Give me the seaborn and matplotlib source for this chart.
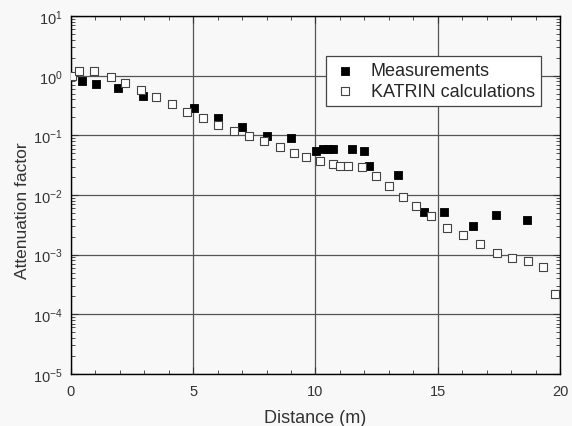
import numpy as np
import pandas as pd
import matplotlib
matplotlib.use("Agg")
import matplotlib.pyplot as plt
import seaborn as sns
from matplotlib.ticker import LogLocator, MultipleLocator, NullFormatter

# measured attenuation (filled squares)
meas_dist = [0.46, 1.01, 1.94, 2.96, 5.04, 6.03, 7.0, 8.02, 8.98, 10.02, 10.32,
             10.52, 10.73, 11.48, 12.0, 12.19, 13.39, 14.44, 15.27, 16.43, 17.37, 18.66]
meas_att = [0.82, 0.73, 0.63, 0.45, 0.29, 0.195, 0.138, 0.098, 0.091, 0.055, 0.058,
            0.058, 0.058, 0.058, 0.055, 0.031, 0.022, 0.0052, 0.0052, 0.0030, 0.0046, 0.0038]

# KATRIN calculations (open squares)
calc_dist = [0.05, 0.34, 0.95, 1.62, 2.21, 2.85, 3.46, 4.12, 4.76, 5.39, 6.03, 6.67,
             7.28, 7.91, 8.55, 9.12, 9.61, 10.18, 10.70, 11.0, 11.32, 11.89, 12.47,
             13.0, 13.59, 14.1, 14.72, 15.37, 16.05, 16.73, 17.41, 18.05, 18.7, 19.29, 19.8]
calc_att = [1.0, 1.18, 1.18, 0.95, 0.76, 0.58, 0.44, 0.33, 0.25, 0.198, 0.15, 0.12,
            0.098, 0.079, 0.064, 0.051, 0.044, 0.037, 0.033, 0.031, 0.031, 0.029, 0.0206,
            0.014, 0.0091, 0.0065, 0.0044, 0.0028, 0.0021, 0.0015, 0.00108, 0.00088,
            0.00077, 0.00061, 0.00022]

sns.set_style("ticks")
plt.rcParams["font.family"] = ["Liberation Sans", "DejaVu Sans"]
plt.rcParams["mathtext.fontset"] = "custom"
plt.rcParams["mathtext.rm"] = "Liberation Sans"

df_meas = pd.DataFrame({"dist": meas_dist, "att": meas_att})
df_calc = pd.DataFrame({"dist": calc_dist, "att": calc_att})

fig = plt.figure(figsize=(5.72, 4.27), dpi=100, facecolor="#f8f8f8")
ax = fig.add_axes([0.124, 0.122, 0.855, 0.838])
ax.set_facecolor("#f8f8f8")

sns.scatterplot(data=df_meas, x="dist", y="att", marker="s", s=26,
                color="black", edgecolor="black", linewidth=0.6,
                label="Measurements", ax=ax, zorder=3)
sns.scatterplot(data=df_calc, x="dist", y="att", marker="s", s=30,
                facecolor="white", edgecolor="#444444", linewidth=0.8,
                label="KATRIN calculations", ax=ax, zorder=3)

ax.set_yscale("log")
ax.set_xlim(0, 20)
ax.set_ylim(1e-5, 10)
ax.xaxis.set_major_locator(MultipleLocator(5))
ax.xaxis.set_minor_locator(MultipleLocator(1))
ax.yaxis.set_major_locator(LogLocator(base=10, numticks=10))
ax.yaxis.set_minor_locator(LogLocator(base=10, subs=np.arange(2, 10), numticks=20))
ax.yaxis.set_minor_formatter(NullFormatter())

ax.grid(True, which="major", color="#555555", linewidth=0.9)
ax.set_axisbelow(True)
ax.tick_params(which="both", direction="in", top=True, right=True,
               labelsize=10.5, colors="#333333", labelcolor="#333333")
ax.tick_params(which="major", length=5)
ax.tick_params(which="minor", length=3)
ax.tick_params(axis="x", which="major", pad=7)
ax.tick_params(axis="y", which="major", pad=6)
for sp in ax.spines.values():
    sp.set_color("black")
    sp.set_linewidth(1.0)

ax.set_xlabel("Distance (m)", fontsize=13, color="#333333", labelpad=8)
ax.set_ylabel("Attenuation factor", fontsize=12.5, color="#333333")
ax.yaxis.set_label_coords(-0.083, 0.46)

leg = ax.legend(loc="upper right", bbox_to_anchor=(0.961, 0.888), fontsize=13,
                frameon=True, fancybox=False, framealpha=1, edgecolor="#444444",
                handletextpad=0.7, borderpad=0.35, labelspacing=0.2,
                borderaxespad=0, markerscale=1.0, handlelength=1.4)
leg.get_frame().set_linewidth(0.9)

fig.savefig("out.png", dpi=100, facecolor=fig.get_facecolor())
